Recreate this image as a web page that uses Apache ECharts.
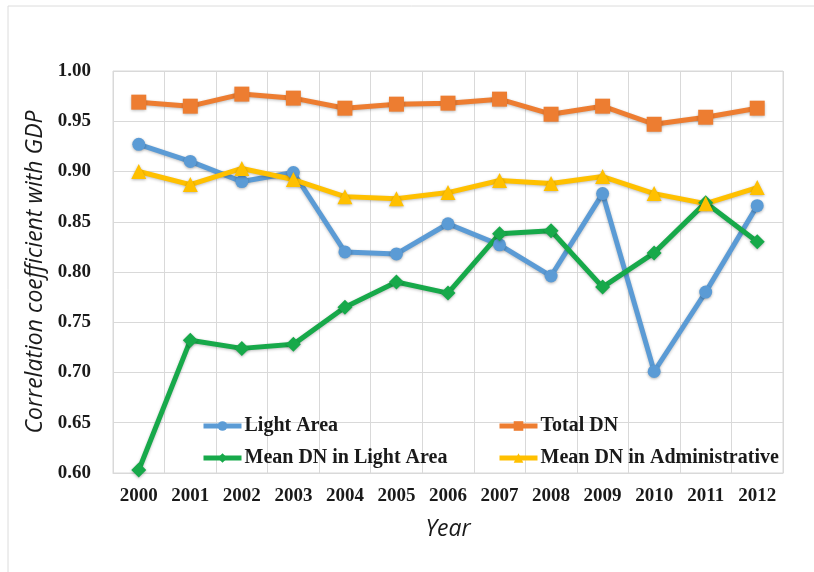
<!DOCTYPE html>
<html>
<head>
<meta charset="utf-8">
<title>Correlation coefficient with GDP</title>
<script src="https://cdn.jsdelivr.net/npm/echarts@6/dist/echarts.min.js"></script>
<style>
  html, body { margin: 0; padding: 0; background: #fff; }
  #chart { width: 814px; height: 572px; }
</style>
</head>
<body>
<div id="chart"></div>
<script>
// 年份
const years = ["2000", "2001", "2002", "2003", "2004", "2005", "2006",
  "2007", "2008", "2009", "2010", "2011", "2012"];

const lightArea = [0.927, 0.910, 0.890, 0.899, 0.820, 0.818, 0.848,
  0.827, 0.796, 0.878, 0.701, 0.780, 0.866];
const totalDN = [0.969, 0.965, 0.977, 0.973, 0.963, 0.967, 0.968,
  0.972, 0.957, 0.965, 0.947, 0.954, 0.963];
const meanDNLight = [0.603, 0.732, 0.724, 0.728, 0.765, 0.790, 0.779,
  0.838, 0.841, 0.785, 0.819, 0.869, 0.830];
const meanDNAdmin = [0.900, 0.887, 0.903, 0.892, 0.875, 0.873, 0.879,
  0.891, 0.888, 0.895, 0.878, 0.868, 0.884];

const serifBold = {
  fontFamily: "Liberation Serif",
  fontWeight: "bold",
  color: "#1a1a1a",
};
const italicName = {
  fontFamily: "Open Sans",
  fontStyle: "italic",
  fontSize: 23,
  color: "#1a1a1a",
};
const gridColor = "#d9d9d9";

function makeSeries(name, data, color, symbol, size) {
  return {
    name: name,
    type: "line",
    data: data,
    symbol: symbol,
    symbolSize: size,
    lineStyle: {
      width: 5,
      color: color,
      shadowColor: "rgba(0,0,0,0.25)",
      shadowBlur: 3,
      shadowOffsetY: 1,
    },
    itemStyle: {
      color: color,
      shadowColor: "rgba(0,0,0,0.3)",
      shadowBlur: 3,
      shadowOffsetY: 1,
    },
  };
}

function makeLegend(left, names) {
  return {
    orient: "vertical",
    left: left,
    top: 411,
    itemWidth: 38,
    itemHeight: 12,
    itemGap: 12,
    data: names,
    lineStyle: { width: 5, shadowBlur: 0 },
    itemStyle: { shadowBlur: 0 },
    textStyle: Object.assign({ fontSize: 20, padding: [0, 0, 0, -2] }, serifBold),
  };
}

let myChart = echarts.init(document.getElementById("chart"));
let option = {
  animation: false,
  backgroundColor: "#fff",
  graphic: [
    {
      type: "rect",
      shape: { x: 8, y: 6, width: 820, height: 580 },
      style: { fill: "none", stroke: "#dcdcdc", lineWidth: 1 },
      silent: true,
    },
  ],
  grid: {
    left: 113,
    right: 31,
    top: 71,
    bottom: 99,
    show: true,
    borderColor: gridColor,
    borderWidth: 1,
  },
  legend: [
    makeLegend(196, ["Light Area", "Mean DN in Light Area"]),
    makeLegend(492, ["Total DN", "Mean DN in Administrative"]),
  ],
  xAxis: {
    type: "category",
    data: years,
    boundaryGap: true,
    name: "Year",
    nameLocation: "middle",
    nameGap: 45,
    nameTextStyle: italicName,
    axisTick: { show: false },
    axisLine: { lineStyle: { color: gridColor } },
    axisLabel: Object.assign({ fontSize: 19, margin: 14 }, serifBold),
    splitLine: { show: true, lineStyle: { color: gridColor } },
  },
  yAxis: {
    type: "value",
    min: 0.6,
    max: 1.0,
    interval: 0.05,
    name: "Correlation coefficient with GDP",
    nameLocation: "middle",
    nameGap: 64,
    nameTextStyle: italicName,
    axisLine: { show: false },
    axisTick: { show: false },
    axisLabel: Object.assign({
      fontSize: 19,
      margin: 22,
      formatter: (v) => v.toFixed(2),
    }, serifBold),
    splitLine: { show: true, lineStyle: { color: gridColor } },
  },
  series: [
    makeSeries("Light Area", lightArea, "#5B9BD5", "circle", 13),
    makeSeries("Total DN", totalDN, "#ED7D31", "rect", 15),
    makeSeries("Mean DN in Light Area", meanDNLight, "#17A94A", "diamond", 15),
    makeSeries("Mean DN in Administrative", meanDNAdmin, "#FFC000", "triangle", 15),
  ],
};
myChart.setOption(option, true);

window.addEventListener("resize", () => {
  myChart.resize();
});
</script>
</body>
</html>
